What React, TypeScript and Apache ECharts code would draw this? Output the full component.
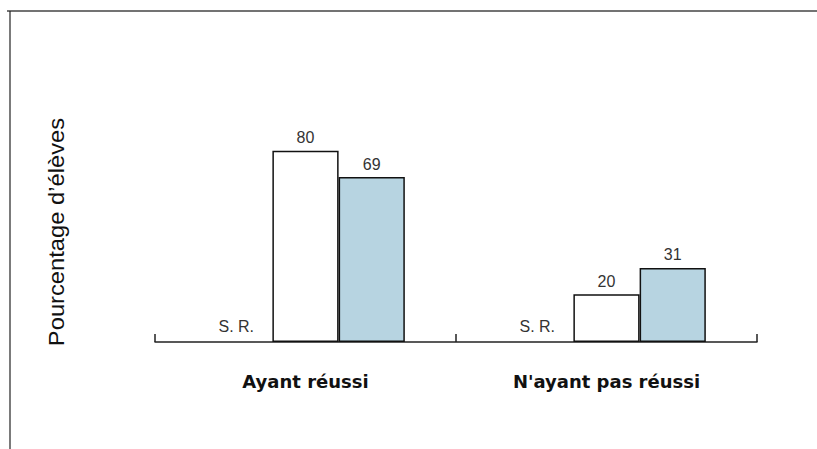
import React, { useEffect, useRef } from "react";
import * as echarts from "echarts";

const categories = ["Ayant réussi", "N'ayant pas réussi"];
const srValues = [0, 0];
const whiteValues = [80, 20];
const blueValues = [69, 31];
const yAxisTitle = "Pourcentage d’élèves";
const srLabel = "S. R.";

export default function App() {
  const ref = useRef<HTMLDivElement>(null);
  useEffect(() => {
    if (!ref.current) return;
    const chart = echarts.init(ref.current, null, { renderer: "svg" });
    const valueLabel = {
      show: true,
      position: "top" as const,
      distance: 5,
      color: "#333",
      fontSize: 16,
      fontFamily: "Liberation Sans, Arial, sans-serif",
    };
    chart.setOption({
      animation: false,
      backgroundColor: "#fff",
      grid: { left: 155, right: 60, top: 103, bottom: 107 },
      xAxis: {
        type: "category",
        data: categories,
        axisLine: { show: true, lineStyle: { color: "#222", width: 1.5 } },
        axisTick: { show: true, inside: true, length: 8, lineStyle: { color: "#222", width: 1.5 } },
        axisLabel: {
          margin: 30,
          color: "#111",
          fontSize: 18,
          fontWeight: "bold",
          fontFamily: "DejaVu Sans, sans-serif",
        },
      },
      yAxis: {
        type: "value",
        min: 0,
        max: 100,
        show: false,
      },
      series: [
        {
          type: "bar",
          data: srValues,
          barGap: "0%",
          barCategoryGap: "34%",
          itemStyle: { color: "transparent", borderWidth: 0 },
          label: { ...valueLabel, formatter: () => srLabel, distance: 8, offset: [-3, 0] },
        },
        {
          type: "bar",
          data: whiteValues,
          barGap: "0%",
          barCategoryGap: "34%",
          itemStyle: { color: "#ffffff", borderColor: "#111", borderWidth: 1.5 },
          label: valueLabel,
        },
        {
          type: "bar",
          data: blueValues,
          barGap: "0%",
          barCategoryGap: "34%",
          itemStyle: { color: "#b7d4e1", borderColor: "#111", borderWidth: 1.5 },
          label: valueLabel,
        },
      ],
      graphic: [
        {
          type: "line",
          shape: { x1: 7, y1: 11, x2: 830, y2: 11 },
          style: { stroke: "#444", lineWidth: 1.5 },
        },
        {
          type: "line",
          shape: { x1: 10, y1: 11, x2: 10, y2: 460 },
          style: { stroke: "#222", lineWidth: 1.2 },
        },
        {
          type: "text",
          x: 56,
          y: 232,
          rotation: Math.PI / 2,
          scaleX: 1.08,
          style: {
            text: yAxisTitle,
            fill: "#111",
            fontSize: 22,
            fontFamily: "Liberation Sans, Arial, sans-serif",
            align: "center",
            verticalAlign: "middle",
          },
        },
      ],
    });
    return () => chart.dispose();
  }, []);
  return (
    <div
      ref={ref}
      style={{ position: "fixed", left: 0, top: 0, width: 817, height: 449 }}
    />
  );
}
